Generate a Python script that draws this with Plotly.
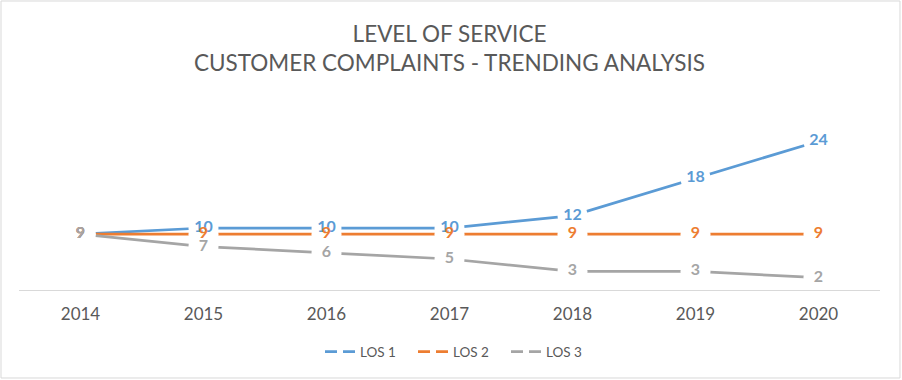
import plotly.graph_objects as go

years = ["2014", "2015", "2016", "2017", "2018", "2019", "2020"]
los1 = [9, 10, 10, 10, 12, 18, 24]
los2 = [9, 9, 9, 9, 9, 9, 9]
los3 = [9, 7, 6, 5, 3, 3, 2]
names = ["LOS 1", "LOS 2", "LOS 3"]
colors = ["#5B9BD5", "#ED7D31", "#A5A5A5"]
series = [los1, los2, los3]

FONT = "Lato, 'Open Sans', sans-serif"
TXT = "#595959"

fig = go.Figure()
for vals, c in zip(series, colors):
    fig.add_trace(go.Scatter(x=years, y=vals, mode="lines", line=dict(color=c, width=2.75),
                             showlegend=False, hoverinfo="skip"))
for vals in series:
    fig.add_trace(go.Scatter(x=years, y=vals, mode="markers",
                             marker=dict(color="white", size=30, line=dict(width=0)),
                             showlegend=False, hoverinfo="skip"))
for vals, c in zip(series, colors):
    fig.add_trace(go.Scatter(x=years, y=vals, mode="text", text=[str(v) for v in vals],
                             textposition="middle center",
                             textfont=dict(color=c, size=16, family=FONT, weight="bold"),
                             showlegend=False, hoverinfo="skip"))
for n, c in zip(names, colors):
    fig.add_trace(go.Scatter(x=[None], y=[None], mode="lines", name=n,
                             line=dict(color=c, width=2.75, dash="12px,6px")))

fig.update_layout(
    width=902, height=380,
    margin=dict(l=19, r=22, t=104, b=90),
    paper_bgcolor="white", plot_bgcolor="white",
    font=dict(family=FONT, color=TXT),
    title=dict(text="LEVEL OF SERVICE<br>CUSTOMER COMPLAINTS - TRENDING ANALYSIS",
               x=0.5, xanchor="center", xref="paper", y=1 - 42 / 380, yanchor="top", yref="container",
               font=dict(size=22.5, color=TXT, family=FONT)),
    xaxis=dict(type="category", categoryorder="array", categoryarray=years, range=[-0.5, 6.5],
               showline=True, linecolor="#D9D9D9", linewidth=1, showgrid=False, zeroline=False,
               ticks="", ticklabelstandoff=9,
               tickfont=dict(size=17, color=TXT, family=FONT), fixedrange=True),
    yaxis=dict(range=[0, 30], visible=False, fixedrange=True),
    legend=dict(orientation="h", x=0.5 + 10 / 861, xanchor="center", y=-0.333, yanchor="middle",
                font=dict(size=13.5, color=TXT, family=FONT), itemwidth=30, entrywidth=48),
    shapes=[dict(type="rect", xref="paper", yref="paper", x0=-0.0209, x1=1.0232, y0=-0.4731, y1=1.5538,
                 line=dict(color="#D9D9D9", width=1), fillcolor="rgba(0,0,0,0)", layer="below")],
)
fig.write_html("out.html", config={"displayModeBar": False},
               post_script="document.body.style.margin='0';")
